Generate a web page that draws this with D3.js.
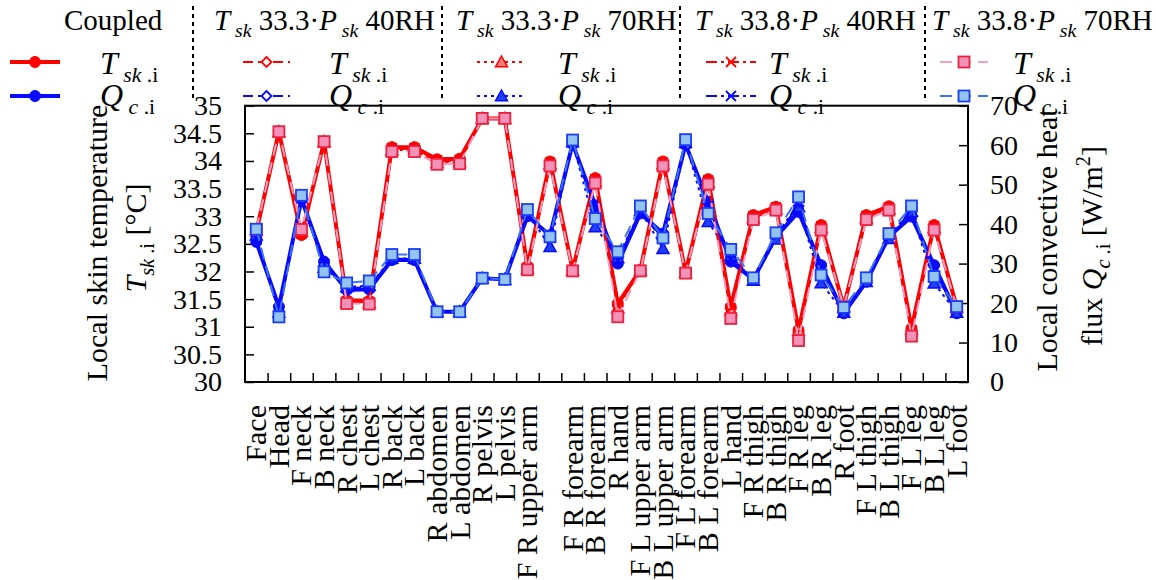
<!DOCTYPE html>
<html>
<head>
<meta charset="utf-8">
<script src="https://cdn.jsdelivr.net/npm/d3@7"></script>
<style>
  body { margin: 0; background: #fff; }
  text { font-family: "Liberation Serif", "Times New Roman", serif; fill: #000; }
</style>
</head>
<body>
<script>
// ---- data ----
var categories = ["Face", "Head", "F neck", "B neck", "R chest", "L chest", "R back", "L back",
  "R abdomen", "L abdomen", "R pelvis", "L pelvis", "F R upper arm", "B R upper arm",
  "F R forearm", "B R forearm", "R hand", "F L upper arm", "B L upper arm", "F L forearm",
  "B L forearm", "L hand", "F R thigh", "B R thigh", "F R leg", "B R leg", "R foot",
  "F L thigh", "B L thigh", "F L leg", "B L leg", "L foot"];
// the reference shows no text under "B R upper arm"
var tickLabels = ["Face", "Head", "F neck", "B neck", "R chest", "L chest", "R back", "L back",
  "R abdomen", "L abdomen", "R pelvis", "L pelvis", "F R upper arm", "",
  "F R forearm", "B R forearm", "R hand", "F L upper arm", "B L upper arm", "F L forearm",
  "B L forearm", "L hand", "F R thigh", "B R thigh", "F R leg", "B R leg", "R foot",
  "F L thigh", "B L thigh", "F L leg", "B L leg", "L foot"];

var tTicks = [30, 30.5, 31, 31.5, 32, 32.5, 33, 33.5, 34, 34.5, 35];
var tTickLabels = ["30", "30.5", "31", "31.5", "32", "32.5", "33", "33.5", "34", "34.5", "35"];
var qTicks = [0, 10, 20, 30, 40, 50, 60, 70];
var qTickLabels = ["0", "10", "20", "30", "40", "50", "60", "70"];

// local skin temperature [degC]
var tCoupled = [32.72, 34.53, 32.66, 34.35, 31.48, 31.47, 34.25, 34.25, 34.03, 34.04, 34.77, 34.77, 32.09, 33.99, 32.03, 33.69, 31.42, 32.03, 33.99, 31.99, 33.67, 31.36, 33.02, 33.17, 30.94, 32.84, 31.36, 33.02, 33.18, 30.97, 32.84, 31.36];
var tS1 = [32.74, 34.53, 32.70, 34.34, 31.45, 31.44, 34.22, 34.22, 33.99, 34.00, 34.77, 34.77, 32.06, 33.95, 32.02, 33.65, 31.37, 32.02, 33.95, 31.98, 33.63, 31.32, 32.98, 33.14, 30.90, 32.80, 31.36, 32.98, 33.15, 30.93, 32.80, 31.36];
var tS2 = [32.75, 34.53, 32.72, 34.35, 31.44, 31.43, 34.20, 34.20, 33.97, 33.98, 34.77, 34.77, 32.05, 33.94, 32.02, 33.63, 31.34, 32.02, 33.94, 31.98, 33.61, 31.30, 32.97, 33.13, 30.93, 32.79, 31.36, 32.97, 33.13, 30.95, 32.79, 31.36];
var tS3 = [32.73, 34.53, 32.68, 34.35, 31.46, 31.45, 34.23, 34.23, 34.01, 34.02, 34.77, 34.77, 32.07, 33.97, 32.03, 33.67, 31.38, 32.03, 33.97, 31.99, 33.65, 31.33, 33.00, 33.16, 30.90, 32.82, 31.36, 33.00, 33.16, 30.93, 32.82, 31.36];
var tS4 = [32.76, 34.53, 32.76, 34.35, 31.42, 31.41, 34.17, 34.17, 33.94, 33.95, 34.77, 34.77, 32.03, 33.91, 32.01, 33.60, 31.18, 32.01, 33.91, 31.97, 33.58, 31.15, 32.94, 33.11, 30.75, 32.75, 31.36, 32.94, 33.11, 30.83, 32.75, 31.36];

// local convective heat flux [W/m2]
var qCoupled = [35.5, 19.1, 46.3, 30.5, 23.3, 23.5, 30.9, 30.9, 17.8, 17.8, 26.3, 26.0, 42.0, 37.2, 60.4, 44.8, 30.0, 42.7, 37.6, 60.2, 45.6, 30.5, 26.0, 36.8, 43.1, 29.6, 17.4, 25.4, 36.8, 41.9, 29.6, 17.4];
var qS1 = [36.8, 18.0, 46.6, 29.6, 23.8, 24.0, 31.2, 31.2, 17.8, 17.8, 26.3, 26.0, 42.6, 36.2, 60.7, 42.8, 31.2, 43.3, 35.9, 60.6, 43.8, 31.6, 26.0, 37.1, 44.6, 27.8, 17.8, 25.7, 37.0, 43.2, 27.6, 17.9];
var qS2 = [37.2, 17.6, 46.8, 29.0, 24.1, 24.4, 31.3, 31.3, 17.8, 17.8, 26.3, 26.0, 42.8, 34.3, 60.8, 39.3, 31.5, 43.4, 33.8, 60.6, 40.6, 32.0, 25.7, 36.2, 44.4, 25.1, 17.6, 25.4, 36.3, 43.2, 25.0, 17.6];
var qS3 = [36.5, 18.3, 46.5, 29.9, 23.7, 23.9, 31.1, 31.1, 17.8, 17.8, 26.3, 26.0, 42.4, 36.6, 60.6, 43.5, 30.8, 43.1, 36.4, 60.4, 44.4, 31.2, 26.1, 37.0, 45.2, 28.4, 17.9, 25.8, 36.9, 43.6, 28.2, 18.0];
var qS4 = [38.7, 16.5, 47.3, 27.9, 25.1, 25.6, 32.3, 32.3, 17.8, 17.8, 26.3, 26.0, 43.7, 36.8, 61.3, 41.4, 33.0, 44.6, 36.5, 61.4, 42.7, 33.6, 26.4, 37.8, 46.9, 27.1, 18.9, 26.4, 37.6, 44.6, 26.7, 19.1];

var groupNames = ["Coupled", "33.3·40", "33.3·70", "33.8·40", "33.8·70"];
var tSeries = [tCoupled, tS1, tS2, tS3, tS4];
var qSeries = [qCoupled, qS1, qS2, qS3, qS4];

// ---- styles (one per group; T then Q) ----
var tStyle = [
  { stroke: "#ff0000", width: 4, dash: null, marker: "circle", fill: "#ff0000", mstroke: "#ff0000" },
  { stroke: "#ff0000", width: 2, dash: "10,5", marker: "diamond", fill: "#fff", mstroke: "#ff0000" },
  { stroke: "#ff0000", width: 2, dash: "3,4", marker: "triangle", fill: "#f58080", mstroke: "#ff0000" },
  { stroke: "#ff0000", width: 2, dash: "11,4,3,4", marker: "cross", fill: "none", mstroke: "#ff0000" },
  { stroke: "#f7a0c2", width: 2, dash: "12,7", marker: "square", fill: "#f592b8", mstroke: "#ee2040" }
];
var qStyle = [
  { stroke: "#0a0aff", width: 4, dash: null, marker: "circle", fill: "#0a0aff", mstroke: "#0a0aff" },
  { stroke: "#0a0aff", width: 2, dash: "10,5", marker: "diamond", fill: "#fff", mstroke: "#0a0aff" },
  { stroke: "#0a0aff", width: 2, dash: "3,4", marker: "triangle", fill: "#2040ff", mstroke: "#0a0aff" },
  { stroke: "#0a0aff", width: 2, dash: "11,4,3,4", marker: "cross", fill: "none", mstroke: "#0a0aff" },
  { stroke: "#3a72ff", width: 2, dash: "12,7", marker: "square", fill: "#93c3f0", mstroke: "#1a3cff" }
];

var width = 1156, height = 580;
var plotL = 245, plotR = 968, plotT = 105.7, plotB = 382;

var svg = d3.select("body").append("svg")
    .attr("width", width)
    .attr("height", height);

var x = d3.scaleBand().domain(d3.range(categories.length)).range([plotL, plotR]);
var xc = function(i) { return x(i) + x.bandwidth() / 2; };
var xEdge = d3.scaleLinear().domain([0, categories.length]).range([plotL, plotR]);
var yT = d3.scaleLinear().domain([30, 35]).range([plotB, plotT]);
var yQ = d3.scaleLinear().domain([0, 70]).range([plotB, plotT]);

// rich text helper: parts = [[string, kind]]; kinds: r, i, sr, si, sup
function rich(sel, parts, size) {
  var shift = 0;
  parts.forEach(function(p) {
    var kind = p[1];
    var small = kind === "sr" || kind === "si" || kind === "sup";
    var target = (kind === "sr" || kind === "si") ? size * 0.25 : kind === "sup" ? -size * 0.4 : 0;
    var t = sel.append("tspan").text(p[0]).attr("dy", target - shift);
    t.attr("font-size", small ? size * 0.68 : size);
    if (kind === "i" || kind === "si") t.attr("font-style", "italic");
    shift = target;
  });
}

// ---- axes ----
var tickFont = 28;

var gl = svg.append("g").attr("transform", "translate(" + plotL + ",0)")
    .call(d3.axisLeft(yT).tickValues(tTicks).tickSize(-9).tickPadding(23)
      .tickFormat(function(d, i) { return tTickLabels[i]; }));
var gr = svg.append("g").attr("transform", "translate(" + plotR + ",0)")
    .call(d3.axisRight(yQ).tickValues(qTicks).tickSize(-9).tickPadding(22)
      .tickFormat(function(d, i) { return qTickLabels[i]; }));
var gb = svg.append("g").attr("transform", "translate(0," + plotB + ")")
    .call(d3.axisBottom(xEdge).tickValues(d3.range(1, categories.length)).tickSize(-9).tickFormat(""));
var gx = svg.append("g").attr("transform", "translate(0," + plotB + ")")
    .call(d3.axisBottom(x).tickSize(0).tickFormat(function(d, i) { return tickLabels[i]; }));

[gl, gr, gb, gx].forEach(function(g) {
  g.attr("font-family", "Liberation Serif").attr("font-size", tickFont);
  g.select(".domain").remove();
  g.selectAll("line").attr("stroke", "#000").attr("stroke-width", 1.5);
});
gx.attr("font-size", 30);
gx.selectAll("text")
    .attr("transform", "rotate(-90)")
    .attr("text-anchor", "end")
    .attr("x", -23)
    .attr("y", 0)
    .attr("dy", "0.33em");

svg.append("rect")
    .attr("x", plotL).attr("y", plotT)
    .attr("width", plotR - plotL).attr("height", plotB - plotT)
    .attr("fill", "none").attr("stroke", "#000").attr("stroke-width", 2);

// axis titles
var lt1 = svg.append("text").attr("transform", "translate(107,243) rotate(-90)")
    .attr("text-anchor", "middle").attr("font-size", 30);
rich(lt1, [["Local skin temperature", "r"]], 30);
var lt2 = svg.append("text").attr("transform", "translate(146,238) rotate(-90)")
    .attr("text-anchor", "middle").attr("font-size", 30);
rich(lt2, [["T", "i"], ["sk", "si"], [" .i", "sr"], ["  [°C]", "r"]], 30);

var rt1 = svg.append("text").attr("transform", "translate(1057,240) rotate(-90)")
    .attr("text-anchor", "middle").attr("font-size", 30);
rich(rt1, [["Local convective heat", "r"]], 30);
var rt2 = svg.append("text").attr("transform", "translate(1102,246) rotate(-90)")
    .attr("text-anchor", "middle").attr("font-size", 30);
rich(rt2, [["flux  ", "r"], ["Q", "i"], ["c", "si"], [" .i", "sr"], ["  [W/m", "r"], ["2", "sup"], ["]", "r"]], 30);

// ---- markers ----
function drawMarker(g, st, cx, cy, scale) {
  var s = scale || 1;
  if (st.marker === "circle") {
    g.append("circle").attr("cx", cx).attr("cy", cy).attr("r", 5.5 * s)
      .attr("fill", st.fill).attr("stroke", st.mstroke);
  } else if (st.marker === "diamond") {
    var r = 5 * s;
    g.append("path").attr("d", "M" + cx + "," + (cy - r) + "L" + (cx + r) + "," + cy + "L" + cx + "," + (cy + r) + "L" + (cx - r) + "," + cy + "Z")
      .attr("fill", st.fill).attr("stroke", st.mstroke).attr("stroke-width", 1.8);
  } else if (st.marker === "triangle") {
    var h = 6 * s;
    g.append("path").attr("d", "M" + cx + "," + (cy - h) + "L" + (cx + h) + "," + (cy + h * 0.8) + "L" + (cx - h) + "," + (cy + h * 0.8) + "Z")
      .attr("fill", st.fill).attr("stroke", st.mstroke).attr("stroke-width", 1.5);
  } else if (st.marker === "cross") {
    var c = 5 * s;
    g.append("path").attr("d", "M" + (cx - c) + "," + (cy - c) + "L" + (cx + c) + "," + (cy + c) + "M" + (cx - c) + "," + (cy + c) + "L" + (cx + c) + "," + (cy - c))
      .attr("fill", "none").attr("stroke", st.mstroke).attr("stroke-width", 1.8);
  } else if (st.marker === "square") {
    var q = 5.5 * s;
    g.append("rect").attr("x", cx - q).attr("y", cy - q).attr("width", 2 * q).attr("height", 2 * q)
      .attr("fill", st.fill).attr("stroke", st.mstroke).attr("stroke-width", 1.8);
  }
}

// ---- series ----
var plot = svg.append("g");
function drawSeries(vals, y, st) {
  var line = d3.line().x(function(d, i) { return xc(i); }).y(function(d) { return y(d); });
  plot.append("path").datum(vals)
      .attr("d", line)
      .attr("fill", "none")
      .attr("stroke", st.stroke)
      .attr("stroke-width", st.width)
      .attr("stroke-dasharray", st.dash)
      .attr("stroke-linejoin", "round");
  var mg = plot.append("g");
  vals.forEach(function(v, i) { drawMarker(mg, st, xc(i), y(v)); });
}
groupNames.forEach(function(n, k) {
  drawSeries(tSeries[k], yT, tStyle[k]);
  drawSeries(qSeries[k], yQ, qStyle[k]);
});

// ---- legend ----
var legTitles = [
  [["Coupled", "r"]],
  [["T", "i"], [" sk", "si"], [" 33.3·", "r"], ["P", "i"], [" sk", "si"], [" 40RH", "r"]],
  [["T", "i"], [" sk", "si"], [" 33.3·", "r"], ["P", "i"], [" sk", "si"], [" 70RH", "r"]],
  [["T", "i"], [" sk", "si"], [" 33.8·", "r"], ["P", "i"], [" sk", "si"], [" 40RH", "r"]],
  [["T", "i"], [" sk", "si"], [" 33.8·", "r"], ["P", "i"], [" sk", "si"], [" 70RH", "r"]]
];
var legTitleX = [64, 214, 456, 695, 932];
var legLineX = [[10, 60], [243, 290], [477, 526], [706, 756], [940, 988]];
var legTextX = [100, 329, 558, 769, 1013];
var dividerX = [193, 442, 680, 925];

var leg = svg.append("g");
dividerX.forEach(function(dx) {
  leg.append("line").attr("x1", dx).attr("x2", dx).attr("y1", 6).attr("y2", 102)
    .attr("stroke", "#000").attr("stroke-width", 2).attr("stroke-dasharray", "4,4");
});
legTitles.forEach(function(parts, k) {
  var t = leg.append("text").attr("x", legTitleX[k]).attr("y", 30).attr("font-size", 29);
  rich(t, parts, 29);
  [[tStyle[k], 62, [["T", "i"], [" sk", "si"], [" .i", "sr"]], 74],
   [qStyle[k], 96, [["Q", "i"], [" c", "si"], [" .i", "sr"]], 106]].forEach(function(row) {
    var st = row[0], ly = row[1];
    leg.append("line").attr("x1", legLineX[k][0]).attr("x2", legLineX[k][1])
      .attr("y1", ly).attr("y2", ly)
      .attr("stroke", st.stroke).attr("stroke-width", st.width)
      .attr("stroke-dasharray", st.dash);
    drawMarker(leg, st, (legLineX[k][0] + legLineX[k][1]) / 2, ly);
    var lt = leg.append("text").attr("x", legTextX[k]).attr("y", row[3]).attr("font-size", 32);
    rich(lt, row[2], 32);
  });
});
</script>
</body>
</html>
